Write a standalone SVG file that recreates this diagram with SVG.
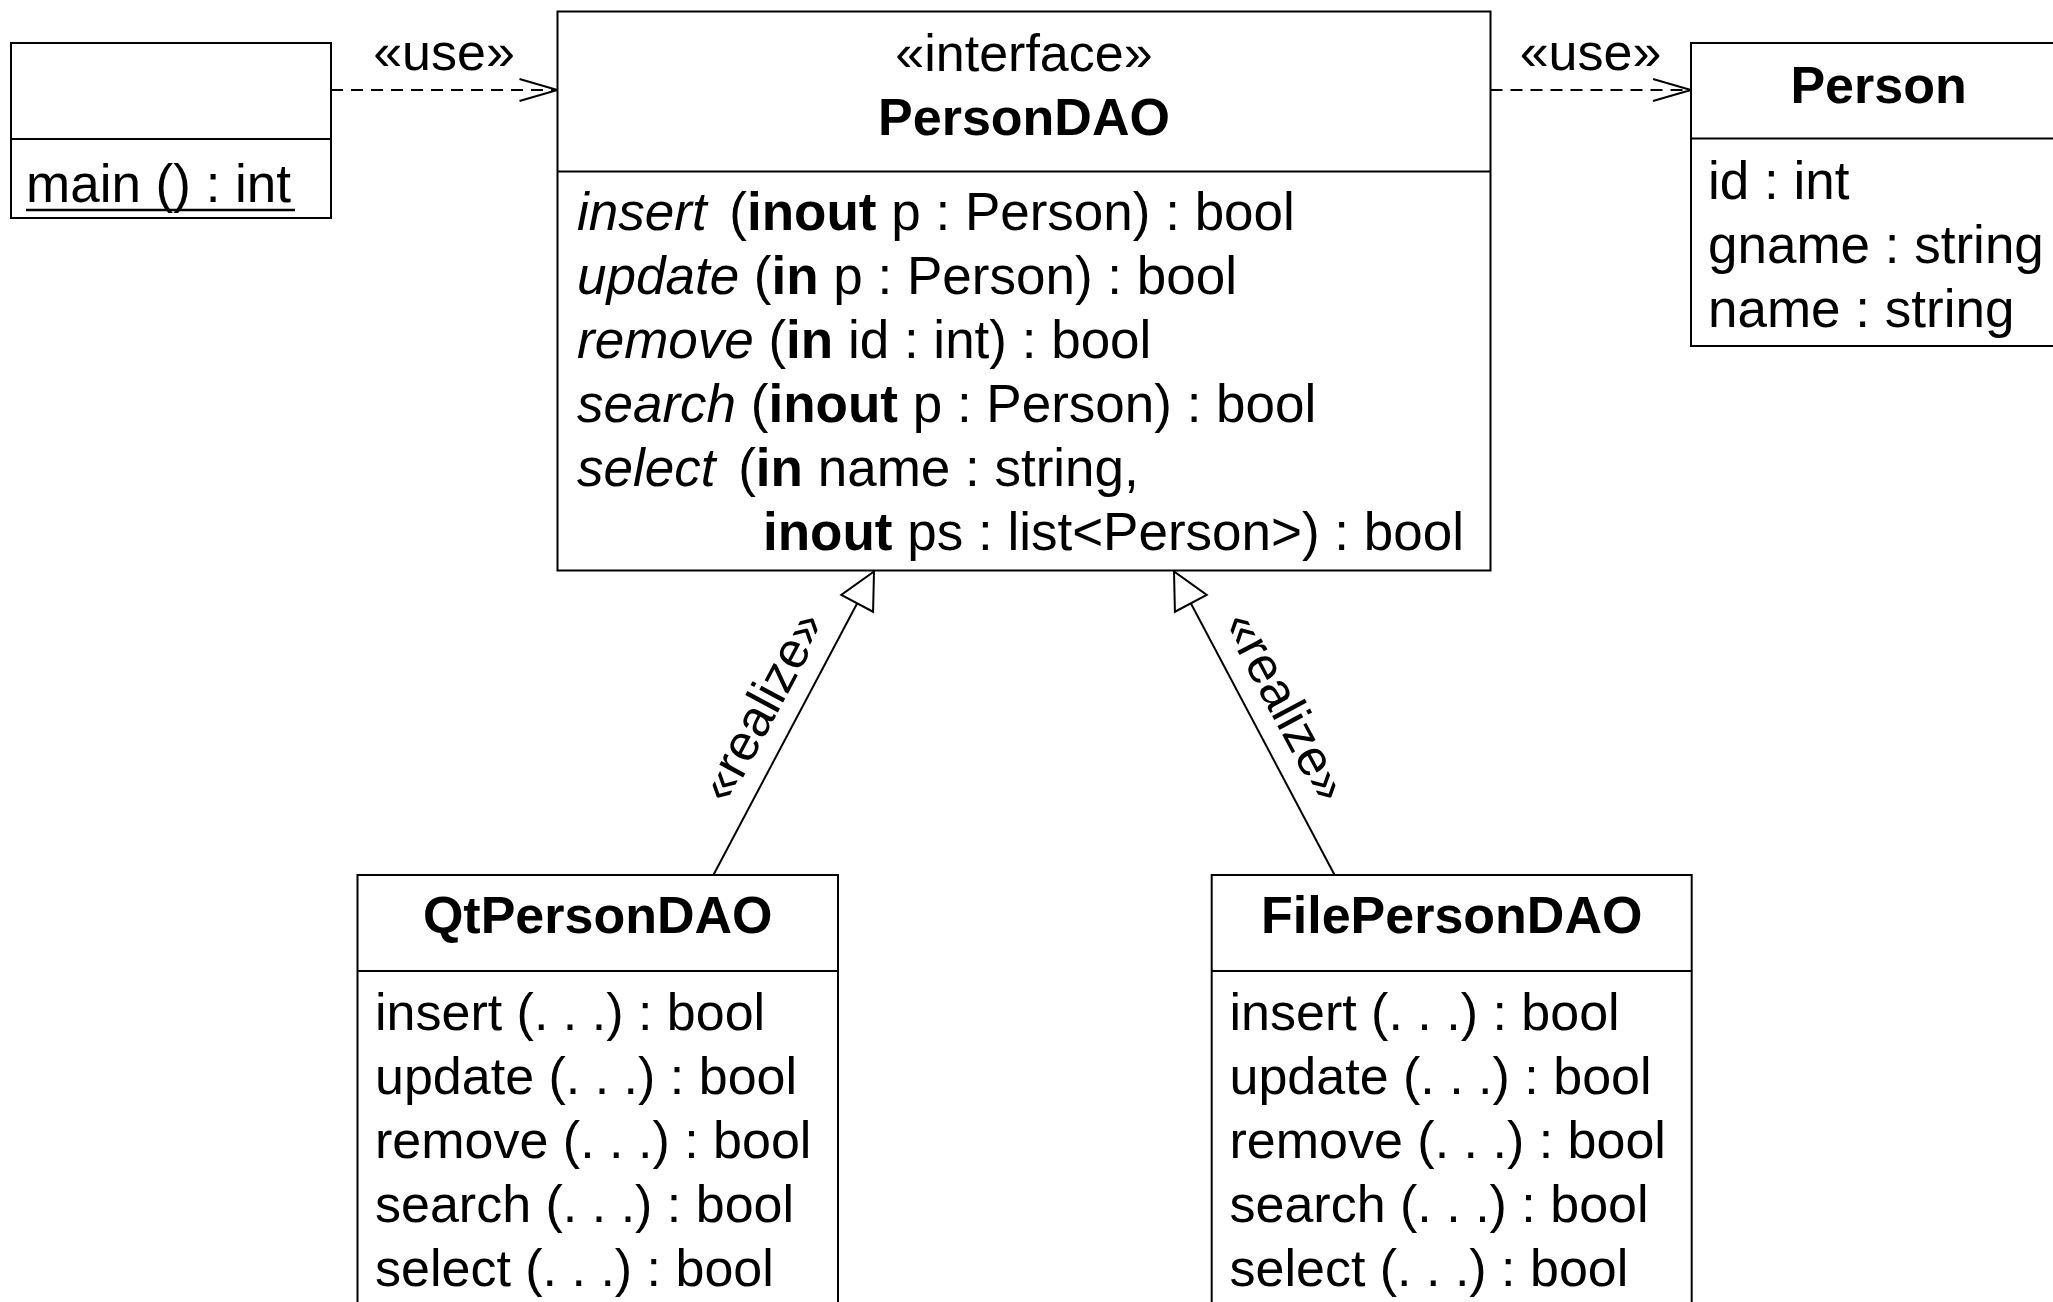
<svg xmlns="http://www.w3.org/2000/svg" width="2053" height="1302" viewBox="0 0 2053 1302">
<style>
.box{fill:#fff;stroke:#000;stroke-width:2}
.sep{stroke:#000;stroke-width:2}
.t{font-family:"Liberation Sans",Arial,Helvetica,sans-serif;font-size:52px;fill:#000}
.m{font-size:53px}
.b{font-weight:bold}
.i{font-style:italic}
.c{text-anchor:middle}
.lbl{font-family:"Liberation Sans",Arial,Helvetica,sans-serif;font-size:52px;fill:#000;text-anchor:middle}
.dep{fill:none;stroke:#000;stroke-width:2;stroke-dasharray:12 8}
.real{fill:none;stroke:#000;stroke-width:2}
</style>
<defs>
<marker id="open" markerUnits="userSpaceOnUse" markerWidth="60" markerHeight="40" viewBox="-45 -20 50 40" refX="0" refY="0" orient="auto">
<path d="M-38,-11 L0,0 L-38,11" fill="none" stroke="#000" stroke-width="2"/>
</marker>
<marker id="tri" markerUnits="userSpaceOnUse" markerWidth="50" markerHeight="50" viewBox="-42 -25 50 50" refX="0" refY="0" orient="auto">
<path d="M0,0 L-36,-18 L-36,18 Z" fill="#fff" stroke="#000" stroke-width="2"/>
</marker>
</defs>
<rect width="2053" height="1302" fill="#fff"/>

<g id="connectors">
<line class="dep" x1="331" y1="90" x2="557.5" y2="90" marker-end="url(#open)"/>
<text class="lbl" x="444" y="70">«use»</text>
<line class="dep" x1="1490.5" y1="90" x2="1691" y2="90" marker-end="url(#open)"/>
<text class="lbl" x="1590.5" y="70">«use»</text>
<line class="real" x1="713.4" y1="875" x2="874" y2="571.5" marker-end="url(#tri)"/>
<text class="lbl" style="font-size:51px" transform="translate(793.2,723) rotate(-61.9)" x="0" y="-18.5">«realize»</text>
<line class="real" x1="1334.6" y1="875" x2="1174" y2="571.5" marker-end="url(#tri)"/>
<text class="lbl" style="font-size:51px" transform="translate(1254.8,723) rotate(61.9)" x="0" y="-18.5">«realize»</text>
</g>

<g id="main">
<rect class="box" x="11" y="43" width="320" height="175"/>
<line class="sep" x1="11" y1="139" x2="331" y2="139"/>
<text class="t m" x="26" y="202">main () : int</text>
<line x1="26" y1="210" x2="295" y2="210" stroke="#000" stroke-width="2.5"/>
</g>

<g id="PersonDAO">
<rect class="box" x="557.5" y="11.5" width="933" height="559"/>
<line class="sep" x1="557.5" y1="171.5" x2="1490.5" y2="171.5"/>
<text class="t c" x="1024" y="71">«interface»</text>
<text class="t c b" x="1024" y="135">PersonDAO</text>
<text class="t m" x="577" y="230"><tspan class="i">insert</tspan> <tspan dx="8">(</tspan><tspan class="b">inout</tspan> p : Person) : bool</text>
<text class="t m" x="577" y="294"><tspan class="i">update</tspan> (<tspan class="b">in</tspan> p : Person) : bool</text>
<text class="t m" x="577" y="358"><tspan class="i">remove</tspan> (<tspan class="b">in</tspan> id : int) : bool</text>
<text class="t m" x="577" y="422"><tspan class="i">search</tspan> (<tspan class="b">inout</tspan> p : Person) : bool</text>
<text class="t m" x="577" y="486"><tspan class="i">select</tspan> <tspan dx="8">(</tspan><tspan class="b">in</tspan> name : string,</text>
<text class="t m" x="763" y="550"><tspan class="b">inout</tspan> ps : list&lt;Person&gt;) : bool</text>
</g>

<g id="Person">
<rect class="box" x="1691" y="43" width="380" height="303"/>
<line class="sep" x1="1691" y1="138.5" x2="2071" y2="138.5"/>
<text class="t c b" x="1878.6" y="103">Person</text>
<text class="t m" x="1708" y="199">id : int</text>
<text class="t m" x="1708" y="263">gname : string</text>
<text class="t m" x="1708" y="327">name : string</text>
</g>

<g id="QtPersonDAO">
<rect class="box" x="357.5" y="875" width="480.5" height="500"/>
<line class="sep" x1="357.5" y1="971" x2="838" y2="971"/>
<text class="t c b" x="597.7" y="933">QtPersonDAO</text>
<text class="t" x="375" y="1030">insert (. . .) : bool</text>
<text class="t" x="375" y="1094">update (. . .) : bool</text>
<text class="t" x="375" y="1158">remove (. . .) : bool</text>
<text class="t" x="375" y="1222">search (. . .) : bool</text>
<text class="t" x="375" y="1286">select (. . .) : bool</text>
</g>

<g id="FilePersonDAO">
<rect class="box" x="1211.7" y="875" width="480" height="500"/>
<line class="sep" x1="1211.7" y1="971" x2="1691.7" y2="971"/>
<text class="t c b" x="1451.7" y="933">FilePersonDAO</text>
<text class="t" x="1229.5" y="1030">insert (. . .) : bool</text>
<text class="t" x="1229.5" y="1094">update (. . .) : bool</text>
<text class="t" x="1229.5" y="1158">remove (. . .) : bool</text>
<text class="t" x="1229.5" y="1222">search (. . .) : bool</text>
<text class="t" x="1229.5" y="1286">select (. . .) : bool</text>
</g>
</svg>
